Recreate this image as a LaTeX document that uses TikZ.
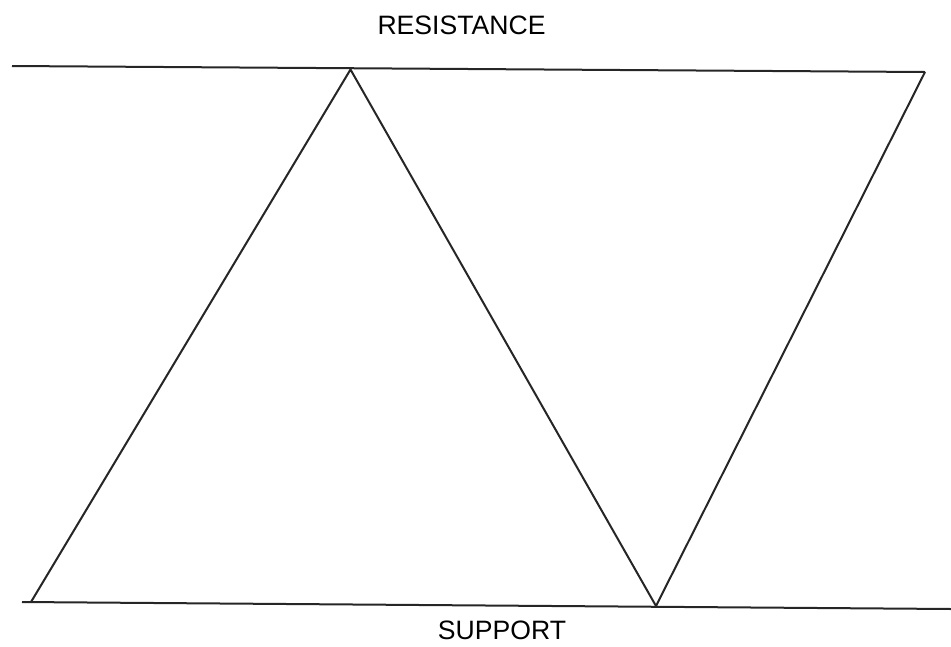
\documentclass[tikz,border=0pt]{standalone}
\usepackage{fontspec}
\setmainfont{Liberation Sans}
\begin{document}
\begin{tikzpicture}[x=1pt,y=-1pt,
  lbl/.style={font=\fontsize{26.6}{30}\selectfont, text=black, inner sep=0pt, anchor=base},
  ln/.style={line width=2pt, draw=black!85, line join=miter}]
\useasboundingbox (0,0) rectangle (951,646);
\coordinate (rs) at (12,66);
\coordinate (re) at (925,72);
\coordinate (ss) at (22,602);
\coordinate (se) at (951,609);
\coordinate (p0) at (31,602);
\coordinate (p1) at (350.5,69.5);
\coordinate (p2) at (656,606);
\coordinate (p3) at (925,72);
\draw[ln] (rs) -- (re);
\draw[ln] (ss) -- (se);
\draw[ln] (p0) -- (p1) -- (p2) -- (p3);
\node[lbl] (res) at (461.5,34) {RESISTANCE};
\node[lbl] (sup) at (502,639) {SUPPORT};
\end{tikzpicture}
\end{document}
